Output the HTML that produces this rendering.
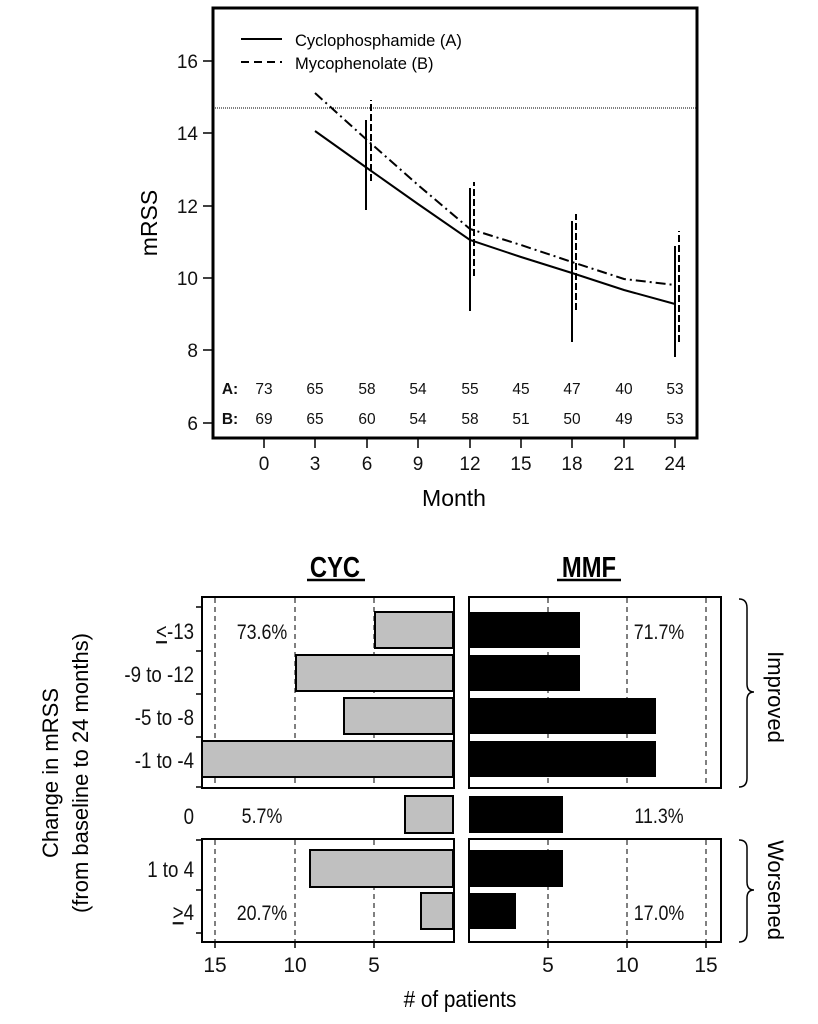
<!DOCTYPE html>
<html><head><meta charset="utf-8"><style>
html,body{margin:0;padding:0;background:#fff}
svg{display:block;font-family:"Liberation Sans",sans-serif}
</style></head><body>
<svg width="818" height="1024" viewBox="0 0 818 1024" xmlns="http://www.w3.org/2000/svg">
<!-- TOP CHART -->
<rect x="213" y="8" width="484" height="430" fill="none" stroke="#000" stroke-width="3"/>
<g stroke="#000" stroke-width="1.5">
<line x1="203" y1="61" x2="213" y2="61"/><line x1="203" y1="133" x2="213" y2="133"/>
<line x1="203" y1="206" x2="213" y2="206"/><line x1="203" y1="278" x2="213" y2="278"/>
<line x1="203" y1="350" x2="213" y2="350"/><line x1="203" y1="423" x2="213" y2="423"/>
<line x1="264" y1="438" x2="264" y2="448"/><line x1="315" y1="438" x2="315" y2="448"/>
<line x1="367" y1="438" x2="367" y2="448"/><line x1="418" y1="438" x2="418" y2="448"/>
<line x1="470" y1="438" x2="470" y2="448"/><line x1="521" y1="438" x2="521" y2="448"/>
<line x1="572" y1="438" x2="572" y2="448"/><line x1="624" y1="438" x2="624" y2="448"/>
<line x1="675" y1="438" x2="675" y2="448"/>
</g>
<g font-size="19" text-anchor="end" fill="#111">
<text x="198" y="68">16</text><text x="198" y="140">14</text><text x="198" y="213">12</text>
<text x="198" y="285">10</text><text x="198" y="357">8</text><text x="198" y="430">6</text>
</g>
<g font-size="19" text-anchor="middle" fill="#111">
<text x="264" y="470">0</text><text x="315" y="470">3</text><text x="367" y="470">6</text>
<text x="418" y="470">9</text><text x="470" y="470">12</text><text x="521" y="470">15</text>
<text x="572" y="470">18</text><text x="624" y="470">21</text><text x="675" y="470">24</text>
</g>
<text x="454" y="506" font-size="23" text-anchor="middle">Month</text>
<text transform="translate(157,223) rotate(-90)" font-size="23" text-anchor="middle">mRSS</text>
<line x1="213" y1="108" x2="697" y2="108" stroke="#000" stroke-width="1" stroke-dasharray="1,1"/>
<line x1="241" y1="39" x2="282" y2="39" stroke="#000" stroke-width="2"/>
<line x1="241" y1="62" x2="282" y2="62" stroke="#000" stroke-width="2" stroke-dasharray="8,5"/>
<text x="295" y="46" font-size="16.5">Cyclophosphamide (A)</text>
<text x="295" y="69" font-size="16.5">Mycophenolate (B)</text>
<polyline fill="none" stroke="#000" stroke-width="2" points="315,131 367,168 418,204 470,240 521,257 572,273 624,290 675,304"/>
<polyline fill="none" stroke="#000" stroke-width="2" stroke-dasharray="10,4,2,4" points="315,93 367,140 418,185 470,229 521,245 572,262 624,279 675,285"/>
<g stroke="#000" stroke-width="2">
<line x1="366" y1="210" x2="366" y2="120"/><line x1="470" y1="311" x2="470" y2="188"/>
<line x1="572" y1="342" x2="572" y2="221"/><line x1="675" y1="357" x2="675" y2="246"/>
</g>
<g stroke="#000" stroke-width="2" stroke-dasharray="7,3">
<line x1="371" y1="181" x2="371" y2="100"/><line x1="474" y1="276" x2="474" y2="182"/>
<line x1="576" y1="310" x2="576" y2="214"/><line x1="679" y1="342" x2="679" y2="231"/>
</g>
<g font-size="15.5" text-anchor="middle" fill="#111">
<text x="230" y="394" font-weight="bold">A:</text>
<text x="264" y="394">73</text><text x="315" y="394">65</text><text x="367" y="394">58</text><text x="418" y="394">54</text><text x="470" y="394">55</text><text x="521" y="394">45</text><text x="572" y="394">47</text><text x="624" y="394">40</text><text x="675" y="394">53</text>
<text x="230" y="424" font-weight="bold">B:</text>
<text x="264" y="424">69</text><text x="315" y="424">65</text><text x="367" y="424">60</text><text x="418" y="424">54</text><text x="470" y="424">58</text><text x="521" y="424">51</text><text x="572" y="424">50</text><text x="624" y="424">49</text><text x="675" y="424">53</text>
</g>

<!-- BOTTOM CHART -->
<g font-weight="bold" font-size="29" text-anchor="middle">
<text x="335" y="577" transform="translate(335,0) scale(0.82,1) translate(-335,0)">CYC</text>
<text x="589" y="577" transform="translate(589,0) scale(0.82,1) translate(-589,0)">MMF</text>
</g>
<line x1="307" y1="580" x2="365" y2="580" stroke="#000" stroke-width="2.5"/>
<line x1="557" y1="580" x2="621" y2="580" stroke="#000" stroke-width="2.5"/>
<g stroke="#000" stroke-width="1" stroke-dasharray="5,4">
<line x1="215" y1="598" x2="215" y2="787"/><line x1="295" y1="598" x2="295" y2="787"/><line x1="374" y1="598" x2="374" y2="787"/>
<line x1="215" y1="840" x2="215" y2="942"/><line x1="295" y1="840" x2="295" y2="942"/><line x1="374" y1="840" x2="374" y2="942"/>
<line x1="548" y1="598" x2="548" y2="787"/><line x1="627" y1="598" x2="627" y2="787"/><line x1="706" y1="598" x2="706" y2="787"/>
<line x1="548" y1="840" x2="548" y2="942"/><line x1="627" y1="840" x2="627" y2="942"/><line x1="706" y1="840" x2="706" y2="942"/>
</g>
<g fill="#c0c0c0" stroke="#000" stroke-width="2">
<rect x="375" y="612" width="78" height="36"/>
<rect x="296" y="655" width="157" height="36"/>
<rect x="344" y="698" width="109" height="36"/>
<rect x="202" y="741" width="251" height="36"/>
<rect x="405" y="796" width="48" height="37"/>
<rect x="310" y="850" width="143" height="37"/>
<rect x="421" y="893" width="32" height="36"/>
</g>
<g fill="#000">
<rect x="469" y="612" width="111" height="36"/>
<rect x="469" y="655" width="111" height="36"/>
<rect x="469" y="698" width="187" height="36"/>
<rect x="469" y="741" width="187" height="36"/>
<rect x="469" y="796" width="94" height="37"/>
<rect x="469" y="850" width="94" height="37"/>
<rect x="469" y="893" width="47" height="36"/>
</g>
<g fill="none" stroke="#000" stroke-width="2">
<rect x="202" y="597" width="252" height="191"/>
<rect x="469" y="597" width="252" height="191"/>
<rect x="202" y="839" width="252" height="103"/>
<rect x="469" y="839" width="252" height="103"/>
</g>
<g stroke="#000" stroke-width="1.5">
<line x1="196" y1="607" x2="202" y2="607"/><line x1="196" y1="651" x2="202" y2="651"/>
<line x1="196" y1="694" x2="202" y2="694"/><line x1="196" y1="737" x2="202" y2="737"/>
<line x1="196" y1="787" x2="202" y2="787"/>
<line x1="196" y1="840" x2="202" y2="840"/><line x1="196" y1="890" x2="202" y2="890"/><line x1="196" y1="933" x2="202" y2="933"/>
<line x1="215" y1="942" x2="215" y2="948"/><line x1="295" y1="942" x2="295" y2="948"/><line x1="374" y1="942" x2="374" y2="948"/>
<line x1="548" y1="942" x2="548" y2="948"/><line x1="627" y1="942" x2="627" y2="948"/><line x1="706" y1="942" x2="706" y2="948"/>
</g>
<g font-size="22" text-anchor="end" fill="#111" transform="translate(194,0) scale(0.85,1) translate(-194,0)">
<text x="194" y="639"><tspan text-decoration="underline">&lt;</tspan>-13</text>
<text x="194" y="682">-9 to -12</text>
<text x="194" y="725">-5 to -8</text>
<text x="194" y="768">-1 to -4</text>
<text x="194" y="824">0</text>
<text x="194" y="877">1 to 4</text>
<text x="194" y="920"><tspan text-decoration="underline">&gt;</tspan>4</text>
</g>
<g font-size="21" text-anchor="middle" fill="#111">
<g transform="translate(262,0) scale(0.85,1) translate(-262,0)">
<text x="262" y="639">73.6%</text><text x="262" y="823">5.7%</text><text x="262" y="920">20.7%</text></g>
<g transform="translate(659,0) scale(0.85,1) translate(-659,0)">
<text x="659" y="639">71.7%</text><text x="659" y="823">11.3%</text><text x="659" y="920">17.0%</text></g>
<text x="215" y="972">15</text><text x="295" y="972">10</text><text x="374" y="972">5</text>
<text x="548" y="972">5</text><text x="627" y="972">10</text><text x="706" y="972">15</text>
</g>
<text x="460" y="1007" font-size="23" text-anchor="middle" transform="translate(460,0) scale(0.9,1) translate(-460,0)"># of patients</text>
<g font-size="22" text-anchor="middle">
<text transform="translate(58,773) rotate(-90)">Change in mRSS</text>
<text transform="translate(88,773) rotate(-90)">(from baseline to 24 months)</text>
<text transform="translate(768,697) rotate(90)">Improved</text>
<text transform="translate(768,890) rotate(90)">Worsened</text>
</g>
<g fill="none" stroke="#000" stroke-width="1.5">
<path d="M739,599 Q747,599 747,608 L747,684 Q747,692 754,692 Q747,692 747,700 L747,778 Q747,787 739,787"/>
<path d="M739,840 Q747,840 747,848 L747,882 Q747,890 754,890 Q747,890 747,898 L747,933 Q747,942 739,942"/>
</g>
</svg>
</body></html>
